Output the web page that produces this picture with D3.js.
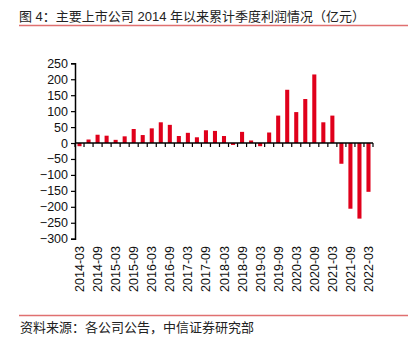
<!DOCTYPE html>
<html>
<head>
<meta charset="utf-8">
<script src="https://cdn.jsdelivr.net/npm/d3@7"></script>
<style>
  body { margin: 0; background: #fff; }
  svg { display: block; font-family: "Liberation Sans", Arial, "Noto Sans CJK SC", sans-serif; }
</style>
</head>
<body>
<div class="chart"></div>
<script>
// quarters since 2014-03
const quarters = [];
for (let y = 2014; y <= 2022; y++) {
  for (const m of ["03", "06", "09", "12"]) {
    if (y === 2022 && m !== "03") continue;
    quarters.push(`${y}-${m}`);
  }
}
// cumulative quarterly profit (亿元)
const profits = [-10, 11, 26, 23, 10, 21, 44, 25, 46, 65, 57, 22, 32, 18, 40, 38, 22, -6,
  35, 8, -10, 33, 86, 167, 97, 138, 215, 65, 86, -65, -206, -237, -153];
const yTicks = [250, 200, 150, 100, 50, 0, -50, -100, -150, -200, -250, -300];

const title = "图 4：主要上市公司 2014 年以来累计季度利润情况（亿元）";
const source = "资料来源：各公司公告，中信证券研究部";

const W = 410, H = 352;
const svg = d3.select(".chart").append("svg")
  .attr("width", W)
  .attr("height", H);

// title + rule
svg.append("text")
  .attr("x", 19)
  .attr("y", 21)
  .style("font-size", "13px")
  .style("fill", "#222")
  .text(title);
svg.append("line")
  .attr("x1", 19).attr("x2", 408)
  .attr("y1", 25.5).attr("y2", 25.5)
  .attr("stroke", "#e07070")
  .attr("stroke-width", 1.5);

const x = d3.scaleBand()
  .domain(quarters)
  .range([75, 373])
  .paddingInner(0.55)
  .paddingOuter(0.275);

const y = d3.scaleLinear()
  .domain([-300, 250])
  .range([238.7, 63.3]);

// y axis
const yAxis = svg.append("g")
  .attr("transform", "translate(75,0)")
  .call(d3.axisLeft(y).tickValues(yTicks).tickSize(4).tickPadding(3));
yAxis.select(".domain").attr("stroke", "#000").attr("stroke-width", 1.5);
yAxis.selectAll(".tick line").attr("stroke", "#000").attr("stroke-width", 1.2);
yAxis.selectAll("text").style("font-size", "12.5px").attr("fill", "#111");

// bars
svg.selectAll(".bar")
  .data(profits)
  .enter().append("rect")
  .attr("class", "bar")
  .attr("x", (d, i) => x(quarters[i]))
  .attr("y", d => y(Math.max(0, d)))
  .attr("width", x.bandwidth())
  .attr("height", d => Math.abs(y(d) - y(0)))
  .attr("fill", "#e0001b");

// zero line with ticks at band boundaries
const x0 = x.range()[0];
svg.append("line")
  .attr("x1", x0).attr("x2", x.range()[1])
  .attr("y1", y(0)).attr("y2", y(0))
  .attr("stroke", "#000")
  .attr("stroke-width", 1.5);
svg.selectAll(".xtick")
  .data(d3.range(quarters.length + 1))
  .enter().append("line")
  .attr("x1", i => x0 + i * x.step())
  .attr("x2", i => x0 + i * x.step())
  .attr("y1", y(0))
  .attr("y2", y(0) + 4)
  .attr("stroke", "#000")
  .attr("stroke-width", 1.2);

// x labels, every other quarter, rotated
svg.selectAll(".xlabel")
  .data(quarters.filter((q, i) => i % 2 === 0))
  .enter().append("text")
  .attr("transform", d => `translate(${x(d) + x.bandwidth() / 2 + 4.5},246) rotate(-90)`)
  .attr("text-anchor", "end")
  .style("font-size", "12.5px")
  .attr("fill", "#111")
  .text(d => d);

// source line
svg.append("line")
  .attr("x1", 19).attr("x2", 408)
  .attr("y1", 315.5).attr("y2", 315.5)
  .attr("stroke", "#e07070")
  .attr("stroke-width", 1.5);
svg.append("text")
  .attr("x", 20)
  .attr("y", 332)
  .style("font-size", "13px")
  .attr("fill", "#222")
  .text(source);
</script>
</body>
</html>
